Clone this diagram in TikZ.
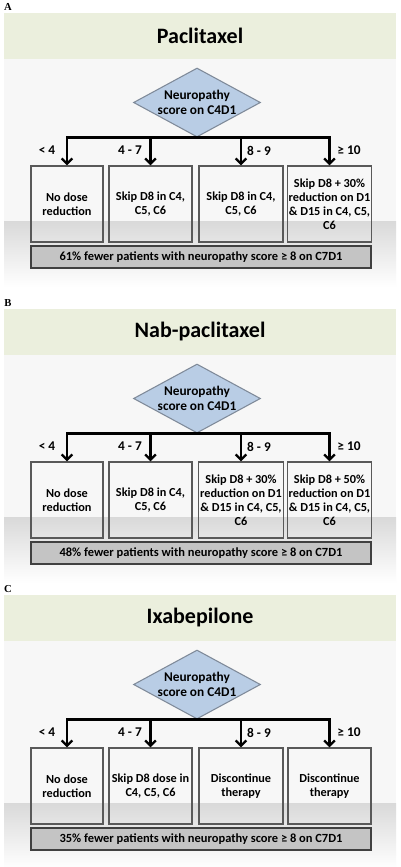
\documentclass[tikz,border=0pt]{standalone}
\usepackage{fontspec}
\setmainfont{Carlito}
\newfontfamily\letterfont{Liberation Serif}
\usetikzlibrary{shapes.geometric,arrows.meta}
\definecolor{banner}{HTML}{EBEFDD}
\definecolor{diafill}{HTML}{B9CDE5}
\definecolor{diaedge}{HTML}{7F8A99}
\definecolor{boxedge}{HTML}{595959}
\definecolor{barfill}{HTML}{C4C4C4}
\definecolor{bgtop}{HTML}{F7F7F7}
\definecolor{bgband}{HTML}{D9D9D9}
\tikzset{
  boxnode/.style={draw=boxedge, line width=0.9pt, minimum height=57pt, inner sep=1pt, align=center,
    font=\fontsize{9.2}{10.4}\selectfont\bfseries},
  dianode/.style={diamond, draw=diaedge, fill=diafill, line width=0.8pt, minimum width=95.25pt,
    minimum height=51.75pt, inner sep=0pt, aspect=1.84, align=center,
    font=\fontsize{10}{11.5}\selectfont\bfseries},
  barnode/.style={draw=black!75, fill=barfill, line width=1pt, minimum width=255pt, minimum height=16.5pt,
    inner sep=0pt, font=\fontsize{9.35}{11}\selectfont\bfseries},
  lbl/.style={font=\fontsize{10}{11}\selectfont\bfseries},
  titlenode/.style={font=\fontsize{16.5}{18}\selectfont\bfseries},
  letternode/.style={font=\fontsize{8}{9}\selectfont\bfseries\letterfont},
  branch/.style={line width=1.7pt},
  arr/.style={line width=1.7pt, -{Straight Barb[length=4pt,width=8pt,line width=1.7pt]}}
}
\newcommand\drugpanel[8]{%
  % #1 offset, #2 letter, #3 title, #4-#7 box texts, #8 bar text
  \node[letternode] (L#2) at (8,#1+7) {#2};
  \fill[banner] (4,#1+13) rectangle (396,#1+59);
  \fill[bgtop] (4,#1+59) rectangle (396,#1+221);
  \shade[top color=bgband, bottom color=white] (4,#1+221) rectangle (396,#1+287);
  \node[titlenode] (T#2) at (200,#1+36) {#3};
  \node[dianode] (D#2) at (197,#1+102.5) {Neuropathy\\score on C4D1};
  \node[boxnode, minimum width=54pt] (B#2a) at (67,#1+204) {#4};
  \node[boxnode, minimum width=62.25pt] (B#2b) at (150.5,#1+204) {#5};
  \node[boxnode, minimum width=63pt] (B#2c) at (241,#1+204) {#6};
  \node[boxnode, minimum width=62.25pt] (B#2d) at (329.5,#1+204) {#7};
  \node[barnode] (R#2) at (201,#1+257) {#8};
  \draw[branch, line cap=rect] (B#2a.north |- D#2.south) -- (B#2d.north |- D#2.south);
  \draw[arr] (B#2a.north |- D#2.south) -- (B#2a.north);
  \draw[arr] (B#2b.north |- D#2.south) -- (B#2b.north);
  \draw[arr] (B#2c.north |- D#2.south) -- (B#2c.north);
  \draw[arr] (B#2d.north |- D#2.south) -- (B#2d.north);
  \node[lbl] (l#2a) at (47,#1+150) {< 4};
  \node[lbl] (l#2b) at (130,#1+150) {4 - 7};
  \node[lbl] (l#2c) at (259,#1+151) {8 - 9};
  \node[lbl] (l#2d) at (349,#1+150) {≥ 10};
}
\begin{document}
\begin{tikzpicture}[x=0.75pt,y=-0.75pt]
\useasboundingbox (0,0) rectangle (400,867);
\fill[white] (0,0) rectangle (400,867);
\drugpanel{0}{A}{Paclitaxel}{No dose\\reduction}{Skip D8 in C4,\\C5, C6}{Skip D8 in C4,\\C5, C6}{Skip D8 + 30\%\\reduction on D1\\\& D15 in C4, C5,\\C6}{61\% fewer patients with neuropathy score ≥ 8 on C7D1}
\drugpanel{296}{B}{Nab-paclitaxel}{No dose\\reduction}{Skip D8 in C4,\\C5, C6}{Skip D8 + 30\%\\reduction on D1\\\& D15 in C4, C5,\\C6}{Skip D8 + 50\%\\reduction on D1\\\& D15 in C4, C5,\\C6}{48\% fewer patients with neuropathy score ≥ 8 on C7D1}
\drugpanel{582}{C}{Ixabepilone}{No dose\\reduction}{Skip D8 dose in\\C4, C5, C6}{Discontinue\\therapy}{Discontinue\\therapy}{35\% fewer patients with neuropathy score ≥ 8 on C7D1}
\end{tikzpicture}
\end{document}
